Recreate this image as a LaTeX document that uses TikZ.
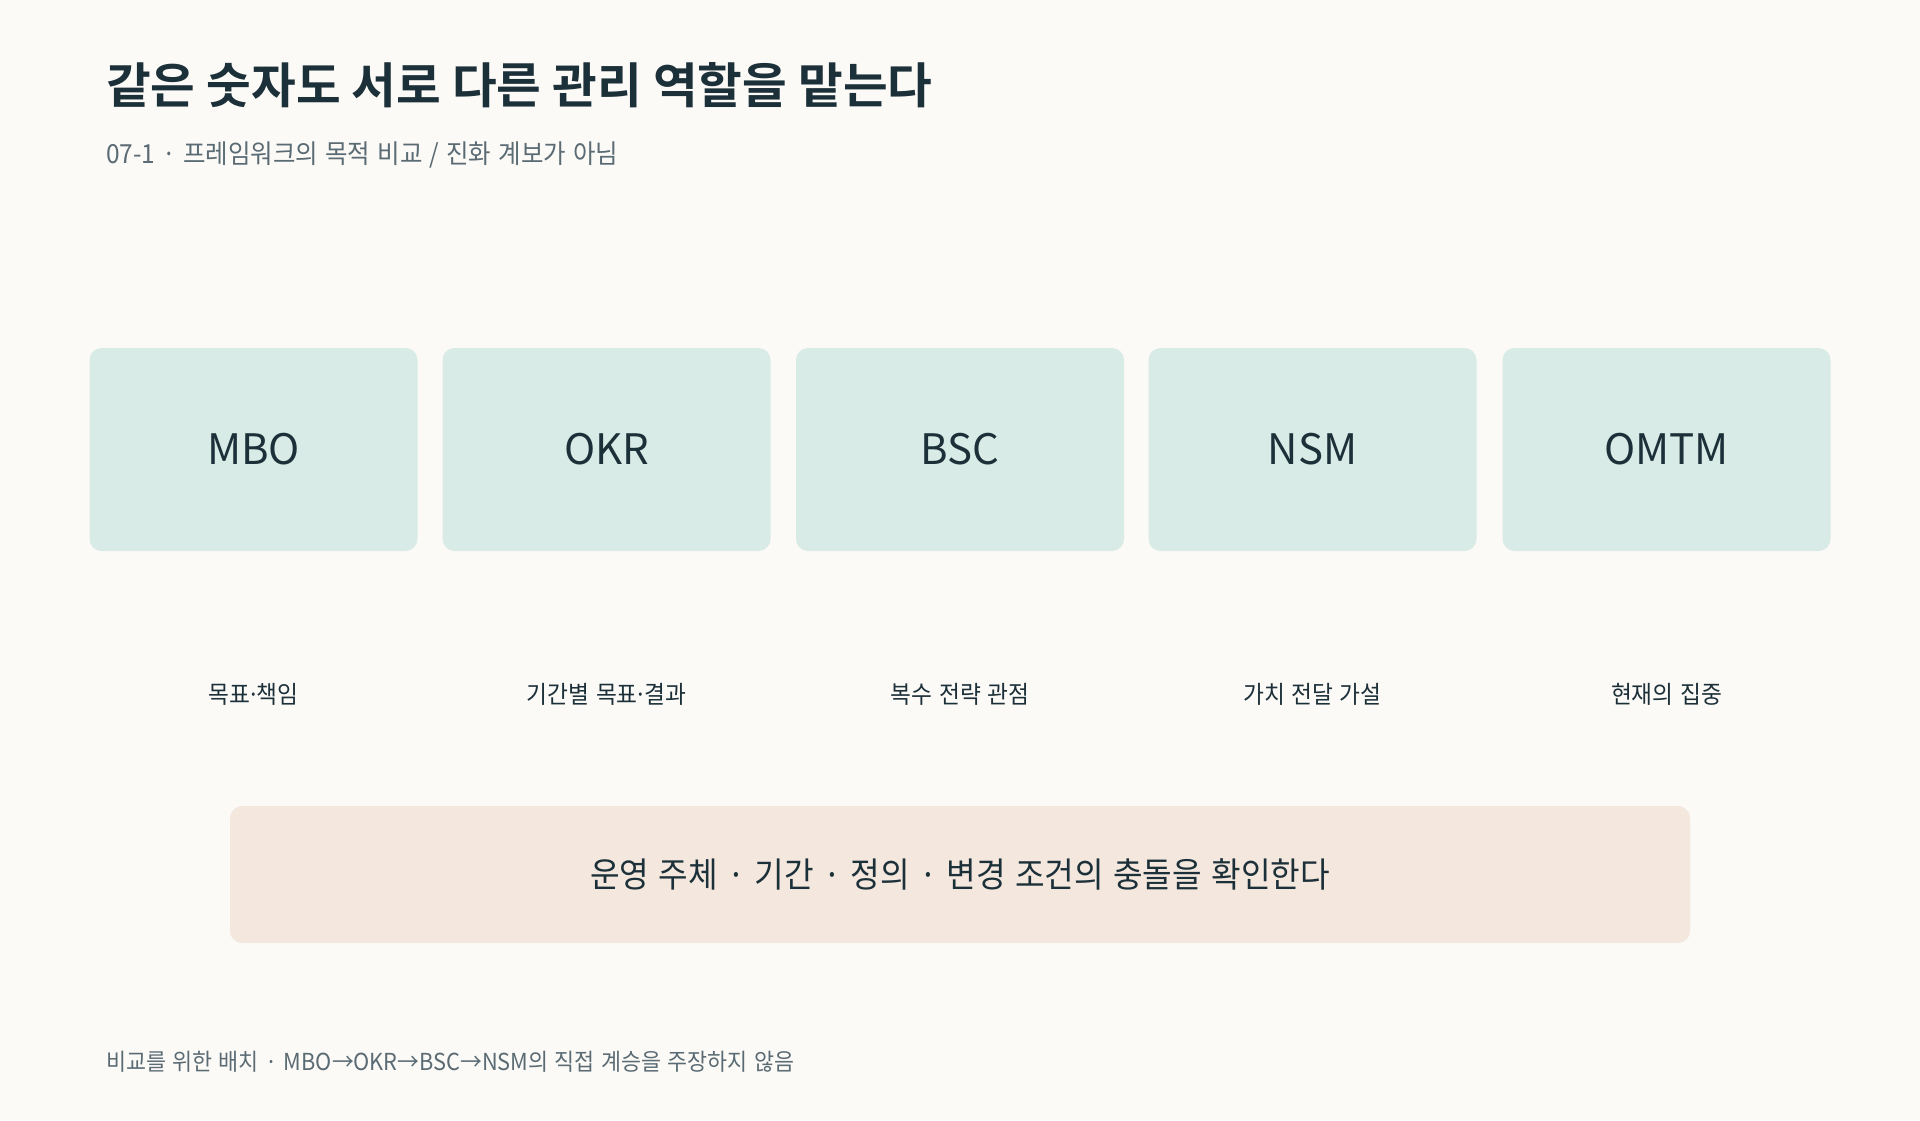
\documentclass[tikz,border=0pt]{standalone}
\usepackage{fontspec}
\setmainfont{Noto Sans CJK KR}
\newfontfamily\kr{Noto Sans CJK KR}
\newfontfamily\body{Noto Sans CJK KR}[FakeStretch=0.93, WordSpace=1.3]
\newfontfamily\krbold{Noto Sans CJK KR}[BoldFont={* Bold}]
\newcommand\tightdot{\kern-3pt·\kern-3pt}
\definecolor{bg}{HTML}{FCFAF7}
\definecolor{boxfill}{HTML}{D8EBE6}
\definecolor{peach}{HTML}{F4E7DD}
\definecolor{ink}{HTML}{1C3039}
\definecolor{muted}{HTML}{5A6B74}
\begin{document}
\begin{tikzpicture}[x=1pt,y=-1pt,
  fw/.style={fill=boxfill, rounded corners=12pt, minimum width=328pt, minimum height=203pt, inner sep=0pt, text=ink, font=\kr\fontsize{42}{50}\selectfont},
  role/.style={text=ink, font=\body\fontsize{24.4}{29}\selectfont, inner sep=0pt},
  note/.style={fill=peach, rounded corners=12pt, minimum width=1460pt, minimum height=137pt, inner sep=0pt, text=ink, font=\body\fontsize{34.6}{40}\selectfont},
  lefttext/.style={anchor=west, inner sep=0pt}]
\useasboundingbox (0,0) rectangle (1920,1120);
\fill[bg] (0,0) rectangle (1920,1120);
\node[lefttext, text=ink, font=\krbold\bfseries\fontsize{48.6}{58}\selectfont] (title) at (106,85) {같은 숫자도 서로 다른 관리 역할을 맡는다};
\node[lefttext, text=muted, font=\body\fontsize{26.3}{31}\selectfont] (sub) at (106,155) {07-1 · 프레임워크의 목적 비교 / 진화 계보가 아님};
\node[fw] (mbo) at (253.5,449.5) {MBO};
\node[fw] (okr) at (606.5,449.5) {OKR};
\node[fw] (bsc) at (960,449.5) {BSC};
\node[fw] (nsm) at (1312.5,449.5) {NSM};
\node[fw] (omtm) at (1666.5,449.5) {OMTM};
\node[role] (r1) at (253.5,694.5) {목표\tightdot 책임};
\node[role] (r2) at (606.5,694.5) {기간별 목표\tightdot 결과};
\node[role] (r3) at (960,694.5) {복수 전략 관점};
\node[role] (r4) at (1312.5,694.5) {가치 전달 가설};
\node[role] (r5) at (1666.5,694.5) {현재의 집중};
\node[note] (check) at (960,874.5) {운영 주체 · 기간 · 정의 · 변경 조건의 충돌을 확인한다};
\node[lefttext, text=muted, font=\body\fontsize{23.4}{28}\selectfont] (foot) at (106,1062) {비교를 위한 배치 · MBO→OKR→BSC→NSM의 직접 계승을 주장하지 않음};
\end{tikzpicture}
\end{document}
